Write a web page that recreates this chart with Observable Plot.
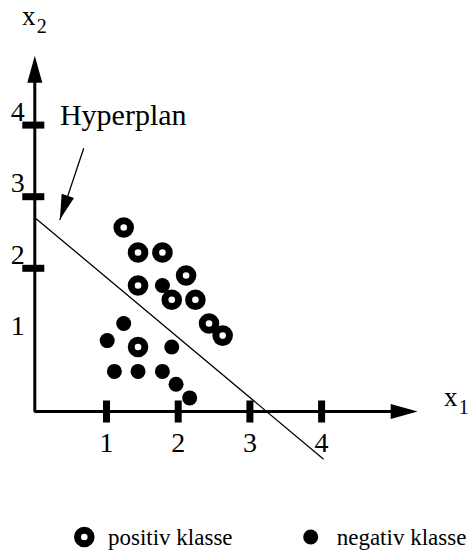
<!DOCTYPE html>
<html>
<head>
<meta charset="utf-8">
<script src="https://cdn.jsdelivr.net/npm/d3@7"></script>
<script src="https://cdn.jsdelivr.net/npm/@observablehq/plot@0.6"></script>
<style>
  html, body { margin: 0; padding: 0; background: #fff; }
  #chart { width: 474px; height: 553px; overflow: hidden; }
  #chart svg { display: block; }
</style>
</head>
<body>
<div id="chart"></div>
<script>
// ---------- data ----------
const positivX = [1.24, 1.44, 1.78, 2.11, 1.44, 1.91, 2.24, 2.43, 2.62, 1.44];
const positivY = [2.57, 2.22, 2.22, 1.90, 1.76, 1.56, 1.56, 1.23, 1.06, 0.90];
const negativX = [1.78, 1.24, 1.01, 1.91, 1.11, 1.44, 1.78, 1.97, 2.16];
const negativY = [1.76, 1.23, 0.99, 0.90, 0.56, 0.56, 0.56, 0.38, 0.19];

const hyperplanX = [0.01, 4.02];
const hyperplanY = [2.70, -0.66];

const annotText = "Hyperplan";
const annotFromX = 0.68, annotFromY = 3.67;   // arrow start (below the label)
const annotToX = 0.35, annotToY = 2.68;       // arrow tip

const xTickValues = [1, 2, 3, 4];
const xTickLabels = ["1", "2", "3", "4"];
const yTickValues = [2, 3, 4];
const yLabelValues = [1, 2, 3, 4];
const yTickLabels = ["1", "2", "3", "4"];

const xAxisTip = 5.34, yAxisTip = 4.97;       // arrow tips of the axes
const xAxisLineEnd = 5.2, yAxisLineEnd = 4.83;

const xTitle = ["x", "1"];
const yTitle = ["x", "2"];
const legendLabels = ["positiv klasse", "negativ klasse"];

// ---------- scales ----------
const FONT = "'Liberation Serif', 'Times New Roman', serif";
const xOpts = {domain: [0, 4], range: [34.3, 321.1]};
const yOpts = {domain: [0, 4], range: [411, 124.6]};
const sx = Plot.scale({x: xOpts});
const sy = Plot.scale({y: yOpts});

// custom symbols
const arrowHead = (L, W) => ({draw(ctx) { ctx.moveTo(0, 0); ctx.lineTo(W / 2, L); ctx.lineTo(-W / 2, L); ctx.closePath(); }});
const bar = (w, h) => ({draw(ctx) { ctx.rect(-w / 2, -h / 2, w, h); }});

const adx = sx.apply(annotToX) - sx.apply(annotFromX);
const ady = sy.apply(annotToY) - sy.apply(annotFromY);
const annotAngle = Math.atan2(adx, -ady) * 180 / Math.PI;

const pos = positivX.map((x, i) => ({x, y: positivY[i]}));
const neg = negativX.map((x, i) => ({x, y: negativY[i]}));
const hyper = hyperplanX.map((x, i) => ({x, y: hyperplanY[i]}));
const axisPath = [{x: xAxisLineEnd, y: 0}, {x: 0, y: 0}, {x: 0, y: yAxisLineEnd}];

const plot = Plot.plot({
  width: 474,
  height: 510,
  margin: 0,
  x: {...xOpts, axis: null},
  y: {...yOpts, axis: null},
  style: {fontFamily: FONT, background: "#fff", color: "#000", overflow: "visible"},
  marks: [
    // axes
    Plot.line(axisPath, {x: "x", y: "y", stroke: "#000", strokeWidth: 3, strokeLinejoin: "miter"}),
    Plot.dot([{x: xAxisTip, y: 0}], {x: "x", y: "y", symbol: arrowHead(27, 15), fill: "#000", stroke: "none", rotate: 90}),
    Plot.dot([{x: 0, y: yAxisTip}], {x: "x", y: "y", symbol: arrowHead(27, 15), fill: "#000", stroke: "none", rotate: 0}),
    // tick bars
    Plot.dot(xTickValues, {x: d => d, y: () => 0, symbol: bar(7, 22), fill: "#000", stroke: "none"}),
    Plot.dot(yTickValues, {x: () => 0, y: d => d, dx: -1.5, symbol: bar(22, 7), fill: "#000", stroke: "none"}),
    // tick labels
    Plot.text(xTickValues, {x: d => d, y: () => 0, text: (d, i) => xTickLabels[i], dy: 32, fontSize: 28, fill: "#000"}),
    Plot.text(yLabelValues, {x: () => 0, y: d => d, text: (d, i) => yTickLabels[i], dx: -17, dy: -13.5, fontSize: 28, fill: "#000"}),
    // axis titles
    Plot.text([xTitle], {x: () => xAxisTip, y: () => 0, text: d => d[0], dx: 33, dy: -14.6, fontSize: 27, fill: "#000"}),
    Plot.text([xTitle], {x: () => xAxisTip, y: () => 0, text: d => d[1], dx: 46, dy: -4.4, fontSize: 20, fill: "#000"}),
    Plot.text([yTitle], {x: () => 0, y: () => yAxisTip, text: d => d[0], dx: -6, dy: -39.6, fontSize: 27, fill: "#000"}),
    Plot.text([yTitle], {x: () => 0, y: () => yAxisTip, text: d => d[1], dx: 7, dy: -29.4, fontSize: 20, fill: "#000"}),
    // hyperplane
    Plot.line(hyper, {x: "x", y: "y", stroke: "#000", strokeWidth: 1.3}),
    // annotation
    Plot.line([{x: annotFromX, y: annotFromY}, {x: annotToX, y: annotToY}], {x: "x", y: "y", stroke: "#000", strokeWidth: 1.3}),
    Plot.dot([{x: annotToX, y: annotToY}], {x: "x", y: "y", symbol: arrowHead(25, 13), fill: "#000", stroke: "none", rotate: annotAngle}),
    Plot.text([annotText], {x: () => annotFromX, y: () => annotFromY, text: d => d, dx: 39.7, dy: -32.9, fontSize: 30, fill: "#000"}),
    // data points
    Plot.dot(neg, {x: "x", y: "y", r: 7.5, fill: "#000", stroke: "none"}),
    Plot.dot(pos, {x: "x", y: "y", r: 6.8, fill: "#fff", stroke: "#000", strokeWidth: 7})
  ]
});

const chart = document.getElementById("chart");
chart.appendChild(plot);

// ---------- legend (below the plot) ----------
const legend = d3.select(chart).append("svg")
  .attr("width", 474).attr("height", 43)
  .style("display", "block")
  .style("font-family", FONT);
const items = [
  {label: legendLabels[0], cx: 84.3, tx: 108, kind: "pos"},
  {label: legendLabels[1], cx: 310.7, tx: 336.7, kind: "neg"}
];
items.forEach(it => {
  if (it.kind === "pos") {
    legend.append("circle").attr("cx", it.cx).attr("cy", 27).attr("r", 6.8)
      .attr("fill", "#fff").attr("stroke", "#000").attr("stroke-width", 7);
  } else {
    legend.append("circle").attr("cx", it.cx).attr("cy", 27).attr("r", 7.5).attr("fill", "#000");
  }
  legend.append("text").attr("x", it.tx).attr("y", 35).attr("font-size", 23)
    .attr("fill", "#000").text(it.label);
});
</script>
</body>
</html>
